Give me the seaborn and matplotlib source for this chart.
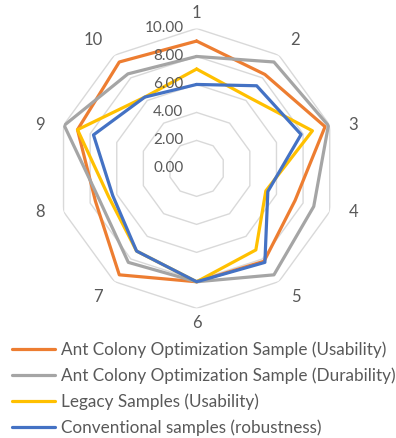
import numpy as np
import pandas as pd
import matplotlib
matplotlib.use("Agg")
import matplotlib.pyplot as plt
import seaborn as sns

# spokes of the radar, clockwise from the top
axis_labels = ["1", "2", "3", "4", "5", "6", "7", "8", "9", "10"]

series_names = [
    "Ant Colony Optimization Sample (Usability)",
    "Ant Colony Optimization Sample (Durability)",
    "Legacy Samples (Usability)",
    "Conventional samples (robustness)",
]
aco_usability = [9.1, 8.3, 9.65, 7.4, 8.2, 8.1, 9.4, 7.6, 8.95, 9.4]
aco_durability = [8.0, 9.4, 9.9, 8.8, 9.4, 8.1, 8.3, 7.3, 9.95, 8.35]
legacy_usability = [7.1, 6.3, 8.7, 5.2, 7.2, 8.1, 7.3, 6.6, 8.95, 6.3]
conventional_robustness = [6.0, 7.3, 7.85, 5.35, 8.3, 8.1, 7.3, 6.3, 7.75, 6.3]

ring_values = [0, 2, 4, 6, 8, 10]

colors = ["#ED7D31", "#A5A5A5", "#FFC000", "#4472C4"]
text_color = "#595959"

sns.set_theme(style="white")
plt.rcParams['font.family'] = ['Lato', 'DejaVu Sans']

n = len(axis_labels)
angles = np.linspace(0, 2 * np.pi, n, endpoint=False)
closed = np.append(angles, angles[0])

# long table, each loop closed back on its first spoke
rows = []
for name, vals in zip(series_names, [aco_usability, aco_durability,
                                     legacy_usability, conventional_robustness]):
    for a, v in zip(closed, vals + vals[:1]):
        rows.append({"angle": a, "value": v, "series": name})
df = pd.DataFrame(rows)

fig = plt.figure(figsize=(3.96, 4.38), dpi=100)
ax = fig.add_axes([0.143, 0.296, 0.707, 0.639], projection='polar')
ax.set_theta_zero_location('N')
ax.set_theta_direction(-1)

# polygon gridlines like Excel's radar
for r in ring_values[1:]:
    ax.plot(closed, [r] * (n + 1), color='#d9d9d9', lw=1, zorder=1)

sns.lineplot(data=df, x='angle', y='value', hue='series', palette=colors,
             sort=False, estimator=None, lw=2.3, ax=ax, zorder=3)

ax.set_ylim(0, 10)
ax.grid(False)
ax.spines['polar'].set_visible(False)
ax.set_yticks([])
ax.set_xlabel("")
ax.set_ylabel("")
ax.set_xticks(angles)
ax.set_xticklabels([])
ax.tick_params(axis='x', length=0)

# spoke labels, set outside the outer ring the way Excel does it
px = 72 / 100
for a, lab in zip(angles, axis_labels):
    s, c = np.sin(a), np.cos(a)
    ha = 'center' if abs(s) < 0.1 else ('left' if s > 0 else 'right')
    dy = 15 * np.sign(c) if abs(c) > 0.5 else 0
    ax.annotate(lab, xy=(a, ring_values[-1]), xytext=(20 * s * px, dy * px),
                textcoords='offset points', ha=ha, va='center',
                color=text_color, fontsize=12, annotation_clip=False)

for r in ring_values:
    ax.annotate(f"{r:.2f}", xy=(0, r), xytext=(-9.5, 0), textcoords='offset points',
                ha='right', va='center', color=text_color, fontsize=11, zorder=5)

sns.move_legend(ax, 'upper left', bbox_to_anchor=(0.03, 0.2195),
                bbox_transform=fig.transFigure, frameon=False, title=None,
                fontsize=12.3, labelcolor=text_color, handlelength=2.5,
                handletextpad=0.4, labelspacing=0.55, borderpad=0,
                borderaxespad=0)
for line in ax.get_legend().get_lines():
    line.set_linewidth(2.3)

fig.savefig("out.png", dpi=100)
